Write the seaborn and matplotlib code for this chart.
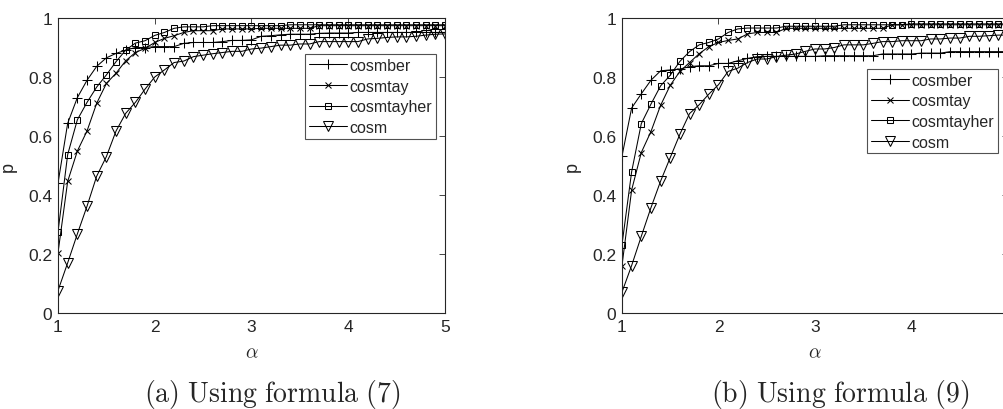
import numpy as np
import matplotlib
matplotlib.use("Agg")
import matplotlib.pyplot as plt
import seaborn as sns

# -------------------------------
# data
# -------------------------------
alpha = np.round(np.arange(1.0, 5.01, 0.1), 1)

# (a) formula (7)
a_cosmber = [0.44, 0.643, 0.73, 0.789, 0.836, 0.865, 0.88, 0.891, 0.90, 0.90,
             0.903, 0.903, 0.903, 0.914, 0.917, 0.917, 0.917, 0.92, 0.924, 0.924,
             0.926, 0.938, 0.94, 0.943, 0.945, 0.945, 0.945, 0.948, 0.949, 0.949,
             0.949, 0.951, 0.951, 0.951, 0.951, 0.951, 0.951, 0.951, 0.951, 0.951, 0.951]
a_cosmtay = [0.204, 0.446, 0.549, 0.617, 0.711, 0.778, 0.813, 0.855, 0.883, 0.897,
             0.917, 0.931, 0.94, 0.951, 0.957, 0.957, 0.957, 0.963, 0.963, 0.963,
             0.963, 0.965, 0.965, 0.965, 0.965, 0.965, 0.965, 0.974, 0.974, 0.974,
             0.974, 0.974, 0.974, 0.974, 0.974, 0.974, 0.974, 0.974, 0.974, 0.974, 0.974]
a_cosmtayher = [0.275, 0.537, 0.655, 0.714, 0.766, 0.807, 0.852, 0.891, 0.915, 0.923,
                0.941, 0.951, 0.965, 0.97, 0.97, 0.97, 0.974, 0.974, 0.974, 0.974,
                0.974, 0.974, 0.974, 0.974, 0.977, 0.977, 0.977, 0.977, 0.977, 0.977,
                0.977, 0.977, 0.977, 0.977, 0.977, 0.977, 0.977, 0.977, 0.977, 0.977, 0.977]
a_cosm = [0.076, 0.17, 0.268, 0.362, 0.464, 0.53, 0.617, 0.677, 0.714, 0.759,
          0.80, 0.824, 0.849, 0.854, 0.869, 0.874, 0.879, 0.883, 0.887, 0.887,
          0.895, 0.898, 0.903, 0.908, 0.908, 0.912, 0.912, 0.92, 0.92, 0.92,
          0.92, 0.92, 0.929, 0.931, 0.934, 0.936, 0.936, 0.938, 0.942, 0.945, 0.946]

# (b) formula (9)
b_cosmber = [0.532, 0.695, 0.743, 0.789, 0.821, 0.824, 0.827, 0.835, 0.838, 0.838,
             0.846, 0.846, 0.855, 0.863, 0.869, 0.87, 0.87, 0.87, 0.87, 0.87,
             0.87, 0.872, 0.872, 0.872, 0.872, 0.872, 0.872, 0.878, 0.878, 0.878,
             0.878, 0.881, 0.881, 0.881, 0.886, 0.886, 0.886, 0.886, 0.886, 0.886, 0.886]
b_cosmtay = [0.161, 0.417, 0.544, 0.615, 0.704, 0.772, 0.819, 0.849, 0.879, 0.903,
             0.917, 0.924, 0.929, 0.946, 0.951, 0.951, 0.951, 0.965, 0.965, 0.965,
             0.965, 0.965, 0.965, 0.965, 0.965, 0.965, 0.965, 0.965, 0.977, 0.977,
             0.977, 0.977, 0.977, 0.977, 0.977, 0.977, 0.977, 0.977, 0.977, 0.977, 0.977]
b_cosmtayher = [0.232, 0.479, 0.642, 0.708, 0.77, 0.806, 0.853, 0.886, 0.909, 0.917,
                0.929, 0.951, 0.963, 0.966, 0.966, 0.966, 0.966, 0.972, 0.972, 0.972,
                0.972, 0.972, 0.972, 0.977, 0.977, 0.977, 0.977, 0.977, 0.977, 0.977,
                0.98, 0.98, 0.98, 0.98, 0.98, 0.98, 0.98, 0.98, 0.98, 0.98, 0.98]
b_cosm = [0.071, 0.161, 0.26, 0.357, 0.447, 0.527, 0.606, 0.676, 0.706, 0.742,
          0.774, 0.819, 0.83, 0.849, 0.861, 0.861, 0.869, 0.874, 0.878, 0.887,
          0.895, 0.895, 0.90, 0.909, 0.909, 0.909, 0.914, 0.92, 0.92, 0.923,
          0.923, 0.923, 0.929, 0.929, 0.932, 0.932, 0.938, 0.938, 0.94, 0.942, 0.942]

labels = ["cosmber", "cosmtay", "cosmtayher", "cosm"]
markers = ["+", "x", "s", "v"]
msizes = [7, 4.5, 5, 6.5]
yticks = [0, 0.2, 0.4, 0.6, 0.8, 1]
ytick_labels = ["0", "0.2", "0.4", "0.6", "0.8", "1"]
captions = [r"$\mathrm{(a)\ Using\ formula\ (7)}$",
            r"$\mathrm{(b)\ Using\ formula\ (9)}$"]

# -------------------------------
# style
# -------------------------------
sns.set_theme(style="white")
plt.rcParams['font.family'] = ['Liberation Sans', 'DejaVu Sans']
plt.rcParams['mathtext.fontset'] = 'cm'
gray = "#262626"

fig = plt.figure(figsize=(10.04, 4.10), dpi=100)
ax_a = fig.add_axes([58 / 1004, 96 / 410, 387 / 1004, 295 / 410])
ax_b = fig.add_axes([622 / 1004, 96 / 410, 386 / 1004, 295 / 410])

panels = [
    (ax_a, [a_cosmber, a_cosmtay, a_cosmtayher, a_cosm], (0.977, 0.878)),
    (ax_b, [b_cosmber, b_cosmtay, b_cosmtayher, b_cosm], (0.974, 0.828)),
]

for i, (ax, series, anchor) in enumerate(panels):
    for vals, lab, mk, ms in zip(series, labels, markers, msizes):
        sns.lineplot(x=alpha, y=vals, ax=ax, color="black", linewidth=0.75,
                     marker=mk, markersize=ms, markerfacecolor="none",
                     markeredgecolor="black", markeredgewidth=0.75, label=lab)

    ax.set_xlim(1, 5)
    ax.set_ylim(0, 1)
    ax.set_xticks([1, 2, 3, 4, 5])
    ax.set_xticklabels(["1", "2", "3", "4", "5"])
    ax.set_yticks(yticks)
    ax.set_yticklabels(ytick_labels)
    ax.tick_params(direction="in", length=4, width=0.6, colors=gray,
                   labelsize=12.5, top=True, right=True, pad=4)
    ax.tick_params(axis="x", labeltop=False)
    for sp in ax.spines.values():
        sp.set_color(gray)
        sp.set_linewidth(0.8)
    ax.set_xlabel(r"$\alpha$", fontsize=14, color=gray, labelpad=8)
    ax.set_ylabel("p", fontsize=13, color=gray, labelpad=8)

    leg = ax.legend(loc="upper right", bbox_to_anchor=anchor, fontsize=11.5,
                    frameon=True, fancybox=False, handlelength=2.4,
                    handletextpad=0.15, borderpad=0.25, labelspacing=0.35,
                    borderaxespad=0)
    leg.get_frame().set_edgecolor(gray)
    leg.get_frame().set_linewidth(0.8)
    for t in leg.get_texts():
        t.set_color(gray)

fig.text(272 / 1004, 1 - 395 / 410, captions[0], ha="center", va="center",
         fontsize=20)
fig.text(840 / 1004, 1 - 395 / 410, captions[1], ha="center", va="center",
         fontsize=20)

fig.savefig("out.png", dpi=100)
